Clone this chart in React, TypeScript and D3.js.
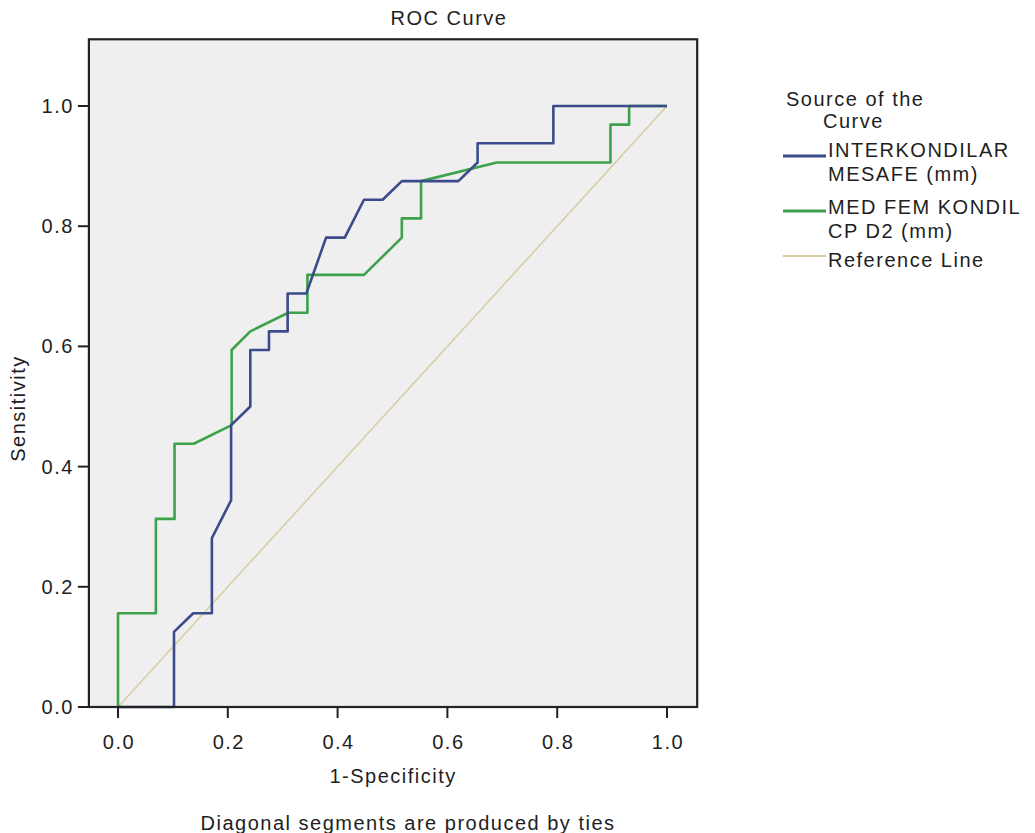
import React from 'react';
import * as d3 from 'd3';

// ROC points: [1-specificity, sensitivity]
const interkondilarFpr = [0, 0.102, 0.102, 0.137, 0.171, 0.171, 0.206, 0.206, 0.241, 0.241, 0.275, 0.275, 0.309, 0.309, 0.343, 0.379, 0.413, 0.448, 0.482, 0.517, 0.620, 0.655, 0.655, 0.793, 0.793, 1.0];
const interkondilarTpr = [0, 0, 0.125, 0.156, 0.156, 0.281, 0.344, 0.469, 0.5, 0.594, 0.594, 0.625, 0.625, 0.688, 0.688, 0.781, 0.781, 0.844, 0.844, 0.875, 0.875, 0.906, 0.938, 0.938, 1.0, 1.0];

const medFemFpr = [0, 0, 0.069, 0.069, 0.103, 0.103, 0.138, 0.207, 0.207, 0.241, 0.310, 0.345, 0.345, 0.448, 0.517, 0.517, 0.552, 0.552, 0.690, 0.897, 0.897, 0.931, 0.931, 1.0];
const medFemTpr = [0, 0.156, 0.156, 0.313, 0.313, 0.438, 0.438, 0.469, 0.594, 0.625, 0.656, 0.656, 0.719, 0.719, 0.781, 0.813, 0.813, 0.875, 0.906, 0.906, 0.969, 0.969, 1.0, 1.0];

const referenceFpr = [0, 1];
const referenceTpr = [0, 1];

const tickValues = [0, 0.2, 0.4, 0.6, 0.8, 1.0];

const seriesNames = ['INTERKONDILAR|MESAFE (mm)', 'MED FEM KONDIL|CP D2 (mm)', 'Reference Line'];
const seriesColors = ['#3b4b8c', '#3ea24c', '#d8cda3'];

const W = 1035;
const H = 833;
const FONT = "'Liberation Sans', Arial, Helvetica, sans-serif";

const App = () => {
  const x = d3.scaleLinear().domain([0, 1]).range([118, 667]);
  const y = d3.scaleLinear().domain([0, 1]).range([707, 106]);

  // frame bounds (axis runs a bit past 0 and 1)
  const frameLeft = x(-0.053);
  const frameRight = x(1.055);
  const frameTop = y(1.111);
  const frameBottom = y(0);

  const line = d3.line<[number, number]>().x(d => x(d[0])).y(d => y(d[1]));
  const zip = (a: number[], b: number[]) => a.map((v, i) => [v, b[i]] as [number, number]);

  const curves = [
    zip(interkondilarFpr, interkondilarTpr),
    zip(medFemFpr, medFemTpr),
    zip(referenceFpr, referenceTpr),
  ];

  const textStyle = { fontFamily: FONT, fontSize: 20, letterSpacing: 1.5, fill: '#1e1e1e' };

  // legend rows: line y and label baselines
  const legendRows = [
    { lineY: 156, lines: [157, 181] },
    { lineY: 211, lines: [214, 238] },
    { lineY: 256, lines: [267] },
  ];

  return (
    <div style={{ position: 'absolute', left: 0, top: 0 }}>
      <svg width={W} height={H} style={{ display: 'block', background: '#fff' }}>
        <text x={449} y={25} textAnchor="middle" {...textStyle}>ROC Curve</text>

        <rect x={frameLeft} y={frameTop} width={frameRight - frameLeft} height={frameBottom - frameTop}
          fill="#efefef" stroke="none" />

        {/* reference line then curves */}
        <path d={line(curves[2]) || ''} fill="none" stroke={seriesColors[2]} strokeWidth={1.6} />
        <path d={line(curves[1]) || ''} fill="none" stroke={seriesColors[1]} strokeWidth={2.6} strokeLinejoin="round" />
        <path d={line(curves[0]) || ''} fill="none" stroke={seriesColors[0]} strokeWidth={2.6} strokeLinejoin="round" />

        <rect x={frameLeft} y={frameTop} width={frameRight - frameLeft} height={frameBottom - frameTop}
          fill="none" stroke="#222" strokeWidth={2.2} />

        {/* x axis ticks */}
        {tickValues.map(t => (
          <g key={'x' + t}>
            <line x1={x(t)} x2={x(t)} y1={frameBottom} y2={frameBottom + 11} stroke="#222" strokeWidth={2} />
            <text x={x(t) + 1} y={749} textAnchor="middle" {...textStyle}>{d3.format('.1f')(t)}</text>
          </g>
        ))}

        {/* y axis ticks */}
        {tickValues.map(t => (
          <g key={'y' + t}>
            <line x1={frameLeft - 11} x2={frameLeft} y1={y(t)} y2={y(t)} stroke="#222" strokeWidth={2} />
            <text x={frameLeft - 15} y={y(t) + 7} textAnchor="end" {...textStyle}>{d3.format('.1f')(t)}</text>
          </g>
        ))}

        <text x={(frameLeft + frameRight) / 2} y={783} textAnchor="middle" {...textStyle}>1-Specificity</text>
        <text x={(frameLeft + frameRight) / 2 + 15} y={830} textAnchor="middle" {...textStyle}>Diagonal segments are produced by ties</text>
        <text transform={`translate(25, ${(y(0) + y(1)) / 2 + 2}) rotate(-90)`} textAnchor="middle" {...textStyle}>Sensitivity</text>

        {/* legend */}
        <text x={786} y={106} {...textStyle}>Source of the</text>
        <text x={823} y={128} {...textStyle}>Curve</text>
        {legendRows.map((row, i) => (
          <g key={'leg' + i}>
            <line x1={783} x2={826} y1={row.lineY} y2={row.lineY} stroke={seriesColors[i]} strokeWidth={i < 2 ? 3 : 2} />
            {seriesNames[i].split('|').map((s, j) => (
              <text key={j} x={828} y={row.lines[j]} {...textStyle}>{s}</text>
            ))}
          </g>
        ))}
      </svg>
    </div>
  );
};

export default App;
